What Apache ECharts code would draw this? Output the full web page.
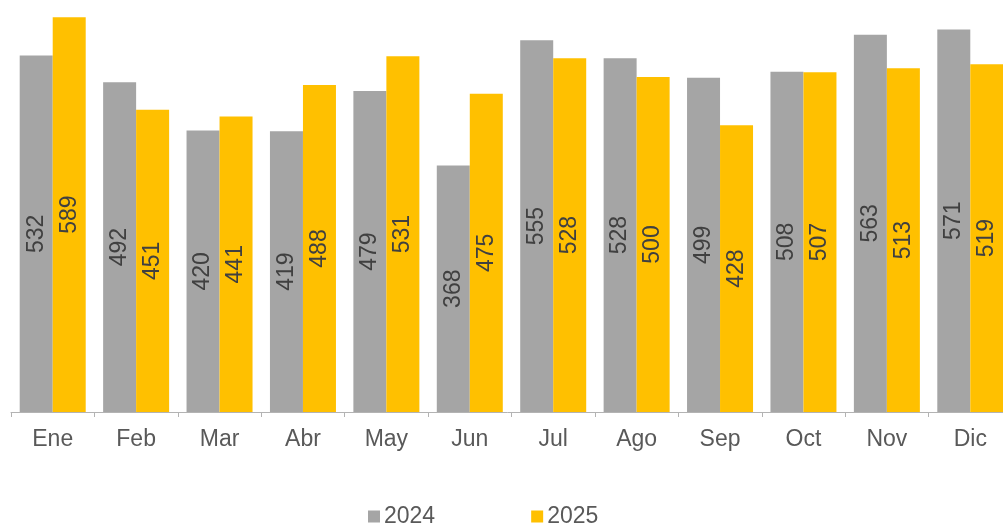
<!DOCTYPE html>
<html>
<head>
<meta charset="utf-8">
<script src="https://cdn.jsdelivr.net/npm/echarts@6/dist/echarts.min.js"></script>
<style>
  html, body { margin: 0; padding: 0; background: #fff; }
  #chart { width: 1003px; height: 524px; }
</style>
</head>
<body>
<div id="chart"></div>
<script>
var months = ['Ene', 'Feb', 'Mar', 'Abr', 'May', 'Jun', 'Jul', 'Ago', 'Sep', 'Oct', 'Nov', 'Dic'];
var values2024 = [532, 492, 420, 419, 479, 368, 555, 528, 499, 508, 563, 571];
var values2025 = [589, 451, 441, 488, 531, 475, 528, 500, 428, 507, 513, 519];

var dom = document.getElementById('chart');
var myChart = echarts.init(dom);

var barLabel = {
    show: true,
    position: 'inside',
    rotate: 90,
    color: '#404040',
    fontSize: 23,
    fontFamily: 'Liberation Sans'
};

var option = {
    animation: false,
    textStyle: { fontFamily: 'Liberation Sans' },
    grid: {
        left: 11,
        top: 10,
        width: 1001,
        bottom: 112,
        containLabel: false,
        outerBoundsMode: 'none'
    },
    legend: {
        data: ['2024', '2025'],
        left: 368,
        top: 505,
        padding: 0,
        icon: 'rect',
        itemWidth: 12,
        itemHeight: 12,
        itemGap: 96,
        textStyle: { color: '#595959', fontSize: 23, fontFamily: 'Liberation Sans', padding: [0, 0, 0, -1] }
    },
    xAxis: {
        type: 'category',
        data: months,
        axisLine: { lineStyle: { color: '#b3b3b3', width: 1 } },
        axisTick: { show: true, length: 5, lineStyle: { color: '#b3b3b3' } },
        axisLabel: { color: '#595959', fontSize: 23, margin: 16 }
    },
    yAxis: {
        type: 'value',
        min: 0,
        max: 600,
        show: false,
        splitLine: { show: false }
    },
    series: [
        {
            name: '2024',
            type: 'bar',
            data: values2024,
            barWidth: 33,
            barGap: '0%',
            itemStyle: { color: '#a5a5a5' },
            label: barLabel
        },
        {
            name: '2025',
            type: 'bar',
            data: values2025,
            barWidth: 33,
            barGap: '0%',
            itemStyle: { color: '#ffc000' },
            label: barLabel
        }
    ]
};

myChart.setOption(option, true);
</script>
</body>
</html>
